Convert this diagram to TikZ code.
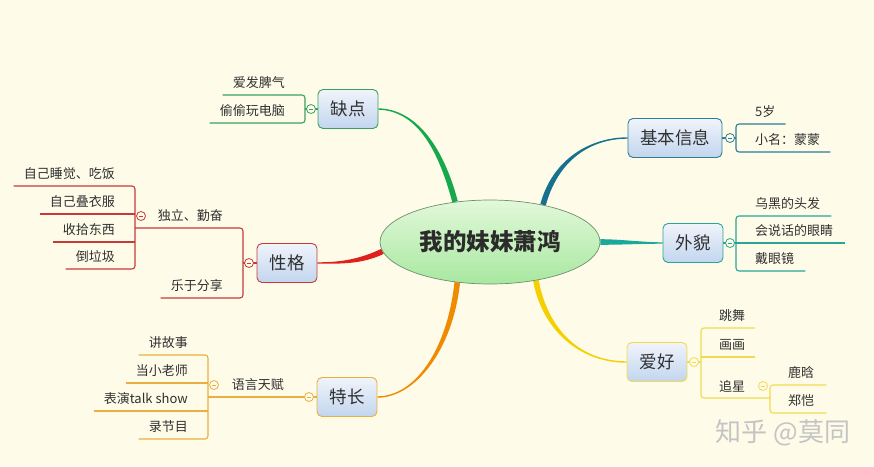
\documentclass[tikz,border=0pt]{standalone}
\usepackage{fontspec}
\setmainfont{Noto Sans CJK SC}
\usetikzlibrary{shapes.geometric,calc}
\definecolor{bg}{HTML}{FEFCE9}
\definecolor{txt}{HTML}{303030}
\definecolor{boxt}{HTML}{F0F4FB}
\definecolor{boxb}{HTML}{C2D5EE}
\definecolor{cgreen}{HTML}{17A84B}
\definecolor{lgreen}{HTML}{3AA060}
\definecolor{cblue}{HTML}{17708E}
\definecolor{lblue}{HTML}{2D7D94}
\definecolor{cteal}{HTML}{19A89A}
\definecolor{lteal}{HTML}{2AA596}
\definecolor{cyellow}{HTML}{F5CF00}
\definecolor{lyellow}{HTML}{F0DA50}
\definecolor{corange}{HTML}{F08A00}
\definecolor{lorange}{HTML}{E8B040}
\definecolor{cred}{HTML}{E0201C}
\definecolor{lred}{HTML}{C83A3A}
\definecolor{ellt}{HTML}{E2F8DA}
\definecolor{ellb}{HTML}{A8E8A0}
\definecolor{ellborder}{HTML}{6F8F6F}
\definecolor{wmark}{HTML}{C4C4C4}
\pgfdeclarelayer{bgl}
\pgfdeclarelayer{back}
\pgfsetlayers{bgl,back,main}
% tapered connector: start, c1, c2, end, half width at start, half width at end, colour
\newcommand\mmtaper[7]{%
  \fill[#7] ($(#1)!#5!90:(#2)$) .. controls ($(#2)!#5!-90:(#1)$) and ($(#3)!#6!90:(#4)$) .. ($(#4)!#6!-90:(#3)$)
    -- ($(#4)!#6!90:(#3)$) .. controls ($(#3)!#6!-90:(#4)$) and ($(#2)!#5!90:(#1)$) .. ($(#1)!#5!-90:(#2)$) -- cycle;
}
\begin{document}
\begin{tikzpicture}[x=1pt,y=-1pt,
  topic/.style={draw=#1, rounded corners=5pt, top color=boxt, bottom color=boxb,
    minimum width=60pt, minimum height=39pt, inner xsep=12pt,
    font=\fontsize{17.5}{20}\selectfont, text=txt, line width=0.9pt},
  leaf/.style={inner sep=0pt, font=\fontsize{13}{15}\selectfont, text=txt},
  fold/.style={circle, draw=#1, fill=bg, minimum size=9pt, inner sep=0pt, line width=0.8pt,
    path picture={\draw[#1, line width=0.7pt] ([xshift=-2.2pt]path picture bounding box.center) -- ([xshift=2.2pt]path picture bounding box.center);}},
  br/.style={draw=#1, line width=1.1pt, rounded corners=3pt}
]
\begin{pgfonlayer}{bgl}
\fill[bg] (0,0) rectangle (874,466);
\end{pgfonlayer}
\useasboundingbox (0,0) rectangle (874,466);

% central topic
\node[ellipse, draw=ellborder, line width=0.7pt, top color=ellt, bottom color=ellb,
  minimum width=220pt, minimum height=84pt, inner sep=0pt,
  font=\fontsize{23.5}{26}\selectfont\bfseries, text=txt!90!black] (c) at (490,242) {我的妹妹萧鸿};

% main topics
\node[topic=lgreen] (qd) at (348,109) {缺点};
\node[topic=lred] (xg) at (287,263) {性格};
\node[topic=lorange] (tc) at (347,397) {特长};
\node[topic=lblue] (jb) at (675,138) {基本信息};
\node[topic=lteal] (wm) at (693,243) {外貌};
\node[topic=lyellow] (ah) at (657,362) {爱好};

% main connectors
\begin{pgfonlayer}{back}
\mmtaper{c.131}{440,145}{415,110}{qd.east}{2.8pt}{0.7pt}{cgreen}
\mmtaper{c.35}{555,160}{590,138}{jb.west}{2.8pt}{0.7pt}{cblue}
\mmtaper{c.0}{621,242}{642,243}{wm.west}{2.8pt}{0.7pt}{cteal}
\mmtaper{c.-40}{545,330}{580,362}{ah.west}{2.8pt}{0.7pt}{cyellow}
\mmtaper{c.231}{450,350}{415,397}{tc.east}{2.8pt}{0.7pt}{corange}
\mmtaper{c.185}{360,262}{340,263}{xg.east}{2.8pt}{0.7pt}{cred}
\end{pgfonlayer}

% ---------- 缺点 ----------
\node[leaf, anchor=east] (k1) at (285,83) {爱发脾气};
\node[leaf, anchor=east] (k2) at (285,111) {偷偷玩电脑};
\draw[br=lgreen] ($(k1.west)+(-10,12)$) -- (305,95) -- (305,123) -- ($(k2.west)+(-10,12)$);
\draw[br=lgreen] (qd.west) -- (305,109);
\node[fold=lgreen] (f1) at (311,109) {};

% ---------- 性格 ----------
\node[leaf, anchor=east] (dl) at (223,216) {独立、勤奋};
\node[leaf, anchor=east] (lx) at (223,286) {乐于分享};
\draw[br=lred] (135,228) -- (243,228) -- (243,298) -- ($(lx.west)+(-10,12)$);
\draw[br=lred] (xg.west) -- (243,263);
\node[fold=lred] (f2) at (249,263) {};
\node[leaf, anchor=east] (z1) at (115,174) {自己睡觉、吃饭};
\node[leaf, anchor=east] (z2) at (115,202) {自己叠衣服};
\node[leaf, anchor=east] (z3) at (115,230) {收拾东西};
\node[leaf, anchor=east] (z4) at (115,257) {倒垃圾};
\draw[br=lred] ($(z1.west)+(-10,12)$) -- (135,186) -- (135,269) -- ($(z4.west)+(-10,12)$);
\draw[br=lred] ($(z2.west)+(-10,12)$) -- (135,214);
\draw[br=lred] ($(z3.west)+(-10,12)$) -- (135,242);
\node[fold=lred] (f3) at (141,216) {};

% ---------- 特长 ----------
\node[leaf, anchor=east] (yy) at (284,385) {语言天赋};
\draw[br=lorange] (208,397) -- (tc.west);
\node[fold=lorange] (f4) at (309,397) {};
\node[leaf, anchor=east] (j1) at (188,343) {讲故事};
\node[leaf, anchor=east] (j2) at (188,371) {当小老师};
\node[leaf, anchor=east] (j3) at (188,399) {表演talk show};
\node[leaf, anchor=east] (j4) at (188,427) {录节目};
\draw[br=lorange] ($(j1.west)+(-10,12)$) -- (208,355) -- (208,439) -- ($(j4.west)+(-10,12)$);
\draw[br=lorange] ($(j2.west)+(-10,12)$) -- (208,383);
\draw[br=lorange] ($(j3.west)+(-10,12)$) -- (208,411);
\node[fold=lorange] (f5) at (214,385) {};

% ---------- 基本信息 ----------
\node[leaf, anchor=west] (b1) at (755,112) {5岁};
\node[leaf, anchor=west] (b2) at (755,140) {小名：蒙蒙};
\draw[br=lblue] ($(b1.east)+(10,12)$) -- (736,124) -- (736,152) -- ($(b2.east)+(10,12)$);
\draw[br=lblue] (jb.east) -- (736,138);
\node[fold=lblue] (f6) at (730,138) {};

% ---------- 外貌 ----------
\node[leaf, anchor=west] (w1) at (755,204) {乌黑的头发};
\node[leaf, anchor=west] (w2) at (755,231) {会说话的眼睛};
\node[leaf, anchor=west] (w3) at (755,259) {戴眼镜};
\draw[br=lteal] ($(w1.east)+(11,12)$) -- (736,216) -- (736,271) -- ($(w3.east)+(11,12)$);
\draw[br=lteal] (wm.east) -- ($(w2.east)+(12,12)$);
\node[fold=lteal] (f7) at (730,243) {};

% ---------- 爱好 ----------
\node[leaf, anchor=west] (h1) at (719,316) {跳舞};
\node[leaf, anchor=west] (h2) at (719,345) {画画};
\node[leaf, anchor=west] (h3) at (719,386) {追星};
\draw[br=lyellow] ($(h1.east)+(10,12)$) -- (701,328) -- (701,398) -- (770,398);
\draw[br=lyellow] ($(h2.east)+(10,12)$) -- (701,357);
\draw[br=lyellow] (ah.east) -- (701,362);
\node[fold=lyellow] (f8) at (694,362) {};
\node[leaf, anchor=west] (x1) at (788,373) {鹿晗};
\node[leaf, anchor=west] (x2) at (788,401) {郑恺};
\draw[br=lyellow] ($(x1.east)+(12,12)$) -- (770,385) -- (770,413) -- ($(x2.east)+(12,12)$);
\node[fold=lyellow] (f9) at (763,386) {};

% watermark
\node[inner sep=0pt, font=\fontsize{26}{28}\selectfont, text=wmark] (wmk) at (783,433) {知乎 @莫同};
\end{tikzpicture}
\end{document}
